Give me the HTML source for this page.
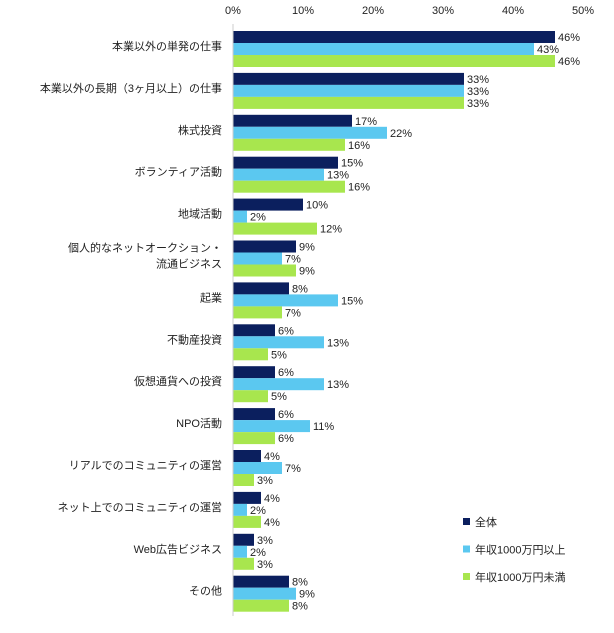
<!DOCTYPE html>
<html><head><meta charset="utf-8"><style>
body{margin:0;background:#fff;font-family:"Liberation Sans","Noto Sans CJK JP",sans-serif;}
svg text{font-family:"Liberation Sans","Noto Sans CJK JP",sans-serif;font-size:11px;fill:#222;}
</style></head><body>
<svg id="c" width="614" height="628"></svg>
<script>
const categories=["本業以外の単発の仕事","本業以外の長期（3ヶ月以上）の仕事","株式投資","ボランティア活動","地域活動","個人的なネットオークション・|流通ビジネス","起業","不動産投資","仮想通貨への投資","NPO活動","リアルでのコミュニティの運営","ネット上でのコミュニティの運営","Web広告ビジネス","その他"];
const seriesAll=[46,33,17,15,10,9,8,6,6,6,4,4,3,8];
const seriesHigh=[43,33,22,13,2,7,15,13,13,11,7,2,2,9];
const seriesLow=[46,33,16,16,12,9,7,5,5,6,3,4,3,8];
const seriesNames=["全体","年収1000万円以上","年収1000万円未満"];
const ticks=[0,10,20,30,40,50];
const colors=["#0b1f5e","#5bc8f0","#a8e64e"];
const svg=document.getElementById('c');const NS="http://www.w3.org/2000/svg";
const x0=233,ppu=7,top0=31,gap=41.9,bh=12;
const X=v=>x0+v*ppu;
function el(t,a,p){const e=document.createElementNS(NS,t);for(const k in a)e.setAttribute(k,a[k]);(p||svg).appendChild(e);return e;}
ticks.forEach(t=>{const e=el('text',{x:X(t),y:14,'text-anchor':'middle'});e.textContent=t+'%';

});
const series=[seriesAll,seriesHigh,seriesLow];
categories.forEach((c,i)=>{const gy=top0+i*gap;
 const lines=c.split('|');
 lines.forEach((l,j)=>{const e=el('text',{x:222,y:gy+19+(lines.length>1?(j*16-8):0),'text-anchor':'end'});e.textContent=l;
 
 });
 series.forEach((s,k)=>{const y=gy+k*bh;
  const r=el('rect',{x:x0,y:y,width:s[i]*ppu,height:bh,fill:colors[k]});
  
  
  const t=el('text',{x:X(s[i])+3,y:y+10});t.textContent=s[i]+'%';
  
  });
});
const ax=el('line',{x1:x0,x2:x0,y1:24,y2:616,stroke:'#ccc','stroke-width':1});


seriesNames.forEach((n,k)=>{const y=522+k*27.5;
 const r=el('rect',{x:463,y:y-4,width:7,height:7,fill:colors[k]});
 
 
 const t=el('text',{x:475,y:y+4});t.textContent=n;
 
 });
</script>
</body></html>
